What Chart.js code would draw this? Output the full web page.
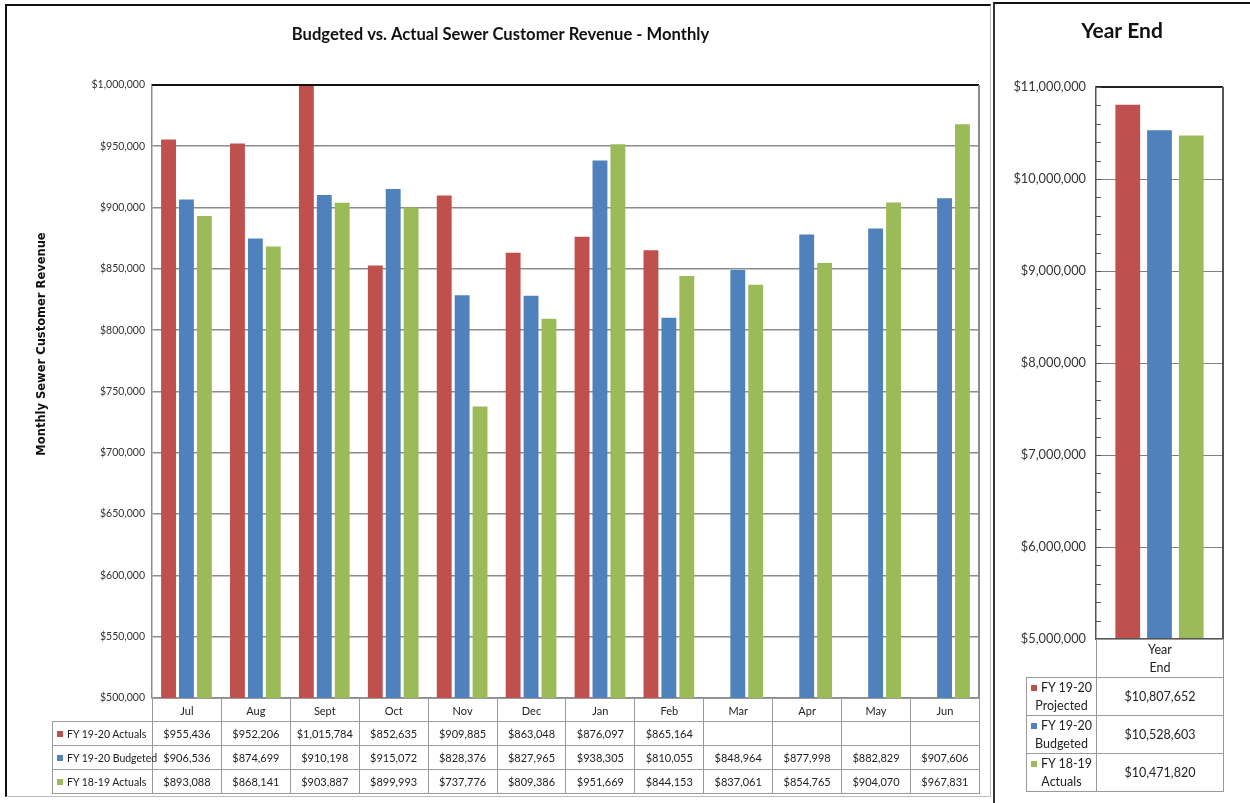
<!DOCTYPE html>
<html>
<head>
<meta charset="utf-8">
<title>Budgeted vs. Actual Sewer Customer Revenue</title>
<script src="https://cdn.jsdelivr.net/npm/chart.js@4.4.0/dist/chart.umd.min.js"></script>
<style>
  html, body { margin: 0; padding: 0; background: #fff; }
  body { position: relative; width: 1250px; height: 803px; overflow: hidden;
         font-family: Lato, "Open Sans", sans-serif; color: #222; }
  #leftPanel { position: absolute; left: 5px; top: 4px; width: 986px; height: 793px; box-sizing: border-box;
               border-top: 2px solid #111; border-left: 2px solid #111; border-right: 1px solid #bbb; border-bottom: 1px solid #bbb; }
  #rightPanel { position: absolute; left: 993px; top: 2px; width: 262px; height: 805px; box-sizing: border-box;
                border-top: 2px solid #111; border-left: 2px solid #333; }
  canvas { position: absolute; }
  #monthly { left: 6px; top: 5px; }
  #yearEnd { left: 995px; top: 5px; }
  table.data { position: absolute; border-collapse: collapse; table-layout: fixed; }
  table.data td { border: 1px solid #9a9a9a; text-align: center; padding: 0; white-space: nowrap; }
  table.data td.blank { border-top: none; border-left: none; }
  #monthlyTable td { font-size: 11px; }
  #monthlyTable td.key { text-align: left; padding-left: 4px; font-size: 10.5px; }
  #yearEndTable td { font-size: 12.5px; line-height: 18px; }
  .sw { display: inline-block; width: 6px; height: 6px; margin-right: 4px; vertical-align: 1px; }
</style>
</head>
<body>
<div id="leftPanel"></div>
<div id="rightPanel"></div>
<canvas id="monthly" width="984" height="790"></canvas>
<canvas id="yearEnd" width="255" height="798"></canvas>
<table id="monthlyTable" class="data"></table>
<table id="yearEndTable" class="data"></table>
<script>
"use strict";

const months = ["Jul", "Aug", "Sept", "Oct", "Nov", "Dec", "Jan", "Feb", "Mar", "Apr", "May", "Jun"];
const fy1920Actuals = [955436, 952206, 1015784, 852635, 909885, 863048, 876097, 865164, null, null, null, null];
const fy1920Budgeted = [906536, 874699, 910198, 915072, 828376, 827965, 938305, 810055, 848964, 877998, 882829, 907606];
const fy1819Actuals = [893088, 868141, 903887, 899993, 737776, 809386, 951669, 844153, 837061, 854765, 904070, 967831];
const monthlyTicks = { min: 500000, max: 1000000, step: 50000 };

const yearEndCats = ["Year End"];
const yearEndProjected = [10807652];
const yearEndBudgeted = [10528603];
const yearEndPrior = [10471820];
const yearEndTicks = { min: 5000000, max: 11000000, step: 1000000, minor: 200000 };

const RED = "#C0504D", BLUE = "#4F81BD", GREEN = "#9BBB59";
const FONT = "Lato, 'Open Sans', sans-serif";

function money(v) { return "$" + Math.round(v).toLocaleString("en-US"); }

// plot area border lines (Excel style: dark top, grey right)
const frameLines = {
  id: "frameLines",
  afterDatasetsDraw(chart, args, opts) {
    const { ctx, chartArea: a } = chart;
    ctx.save();
    ctx.lineWidth = opts.width || 1.5;
    if (opts.top) { ctx.strokeStyle = opts.top; ctx.beginPath(); ctx.moveTo(a.left, a.top); ctx.lineTo(a.right, a.top); ctx.stroke(); }
    if (opts.right) { ctx.strokeStyle = opts.right; ctx.beginPath(); ctx.moveTo(a.right, a.top); ctx.lineTo(a.right, a.bottom); ctx.stroke(); }
    if (opts.bottom) { ctx.strokeStyle = opts.bottom; ctx.beginPath(); ctx.moveTo(a.left, a.bottom); ctx.lineTo(a.right, a.bottom); ctx.stroke(); }
    ctx.restore();
  },
};

// short minor tick marks inside the plot, on the value axis
const minorTicks = {
  id: "minorTicks",
  afterDatasetsDraw(chart, args, opts) {
    if (!opts.step) return;
    const { ctx, chartArea: a } = chart;
    const y = chart.scales.y;
    ctx.save();
    ctx.strokeStyle = opts.color || "#555";
    ctx.lineWidth = 1;
    for (let v = y.min; v <= y.max; v += opts.step) {
      const py = Math.round(y.getPixelForValue(v)) + 0.5;
      ctx.beginPath(); ctx.moveTo(a.left, py); ctx.lineTo(a.left + (opts.length || 4), py); ctx.stroke();
    }
    ctx.restore();
  },
};

// free-standing captions (the Excel titles were placed by hand, not centred)
const captions = {
  id: "captions",
  afterDraw(chart, args, opts) {
    const { ctx } = chart;
    for (const c of opts.items || []) {
      ctx.save();
      ctx.translate(c.x, c.y);
      if (c.rotate) ctx.rotate(c.rotate);
      ctx.font = c.font;
      ctx.fillStyle = c.color || "#111";
      ctx.textAlign = "center";
      ctx.textBaseline = "middle";
      ctx.fillText(c.text, 0, 0);
      ctx.restore();
    }
  },
};

const monthlyChart = new Chart(document.getElementById("monthly"), {
  type: "bar",
  data: {
    labels: months,
    datasets: [
      { label: "FY 19-20 Actuals", data: fy1920Actuals, backgroundColor: RED },
      { label: "FY 19-20 Budgeted", data: fy1920Budgeted, backgroundColor: BLUE },
      { label: "FY 18-19 Actuals", data: fy1819Actuals, backgroundColor: GREEN },
    ],
  },
  options: {
    responsive: false,
    animation: false,
    categoryPercentage: 0.78,
    barPercentage: 0.83,
    layout: { padding: { left: 16, right: 11, top: 0, bottom: 97 } },
    scales: {
      x: { display: false },
      y: {
        min: monthlyTicks.min,
        max: monthlyTicks.max,
        afterFit: (scale) => { scale.width = 130; },
        ticks: { stepSize: monthlyTicks.step, padding: 7, color: "#333",
                 font: { family: FONT, size: 10.5 }, callback: (v) => money(v) },
        grid: { color: "#8c8c8c", lineWidth: 1.5, drawTicks: false },
        border: { color: "#8c8c8c", width: 1.5 },
      },
    },
    plugins: {
      legend: { display: false },
      tooltip: { enabled: false },
      title: { display: true, text: "Budgeted vs. Actual Sewer Customer Revenue - Monthly", color: "#111",
               font: { family: FONT, size: 16.6, weight: "bold" }, padding: { top: 20, bottom: 40 } },
      frameLines: { top: "#111", right: "#8c8c8c", width: 2 },
      captions: { items: [
        { text: "Monthly Sewer Customer Revenue", x: 36, y: 339, rotate: -Math.PI / 2,
          font: "bold 11.5px 'DejaVu Sans', sans-serif" },
      ] },
    },
  },
  plugins: [frameLines, captions],
});

const yearEndChart = new Chart(document.getElementById("yearEnd"), {
  type: "bar",
  data: {
    labels: yearEndCats,
    datasets: [
      { label: "FY 19-20 Projected", data: yearEndProjected, backgroundColor: RED },
      { label: "FY 19-20 Budgeted", data: yearEndBudgeted, backgroundColor: BLUE },
      { label: "FY 18-19 Actuals", data: yearEndPrior, backgroundColor: GREEN },
    ],
  },
  options: {
    responsive: false,
    animation: false,
    categoryPercentage: 0.75,
    barPercentage: 0.78,
    layout: { padding: { left: 0, right: 27, top: 82, bottom: 164 } },
    scales: {
      x: { display: false },
      y: {
        min: yearEndTicks.min,
        max: yearEndTicks.max,
        afterFit: (scale) => { scale.width = 101; },
        ticks: { stepSize: yearEndTicks.step, padding: 10, color: "#333",
                 font: { family: FONT, size: 12.8 }, callback: (v) => money(v) },
        grid: { color: "#7f7f7f", lineWidth: 1, drawTicks: false },
        border: { color: "#555", width: 1.5 },
      },
    },
    plugins: {
      legend: { display: false },
      tooltip: { enabled: false },
      title: { display: false },
      frameLines: { top: "#222", right: "#555", bottom: "#555", width: 2 },
      minorTicks: { step: yearEndTicks.minor, length: 5, color: "#555" },
      captions: { items: [
        { text: "Year End", x: 127, y: 26, font: "bold 21px Lato, 'Open Sans', sans-serif" },
      ] },
    },
  },
  plugins: [frameLines, minorTicks, captions],
});

// data tables lined up under each plot area
function buildTable(tableEl, chart, opts) {
  const canvas = chart.canvas;
  const a = chart.chartArea;
  const plotLeft = canvas.offsetLeft + a.left;
  const colW = (a.right - a.left) / opts.cats.length;
  tableEl.style.left = opts.labelLeft + "px";
  tableEl.style.top = (canvas.offsetTop + a.bottom) + "px";
  tableEl.style.width = (canvas.offsetLeft + a.right - opts.labelLeft) + "px";
  let html = `<colgroup><col style="width:${plotLeft - opts.labelLeft}px">` +
    opts.cats.map(() => `<col style="width:${colW}px">`).join("") + "</colgroup>";
  html += `<tr style="height:${opts.headH}px"><td class="blank"></td>` +
    opts.cats.map((c) => `<td>${c}</td>`).join("") + "</tr>";
  for (const s of opts.series) {
    html += `<tr style="height:${opts.rowH}px"><td class="key"><span class="sw" style="background:${s.color}"></span>${s.label}</td>` +
      s.data.map((v) => `<td>${v == null ? "" : money(v)}</td>`).join("") + "</tr>";
  }
  tableEl.innerHTML = html;
}

buildTable(document.getElementById("monthlyTable"), monthlyChart, {
  labelLeft: 52, headH: 23, rowH: 24, cats: months,
  series: [
    { label: "FY 19-20 Actuals", color: RED, data: fy1920Actuals },
    { label: "FY 19-20 Budgeted", color: BLUE, data: fy1920Budgeted },
    { label: "FY 18-19 Actuals", color: GREEN, data: fy1819Actuals },
  ],
});

buildTable(document.getElementById("yearEndTable"), yearEndChart, {
  labelLeft: 1026, headH: 38, rowH: 38, cats: ["Year<br>End"],
  series: [
    { label: "FY 19-20<br>Projected", color: RED, data: yearEndProjected },
    { label: "FY 19-20<br>Budgeted", color: BLUE, data: yearEndBudgeted },
    { label: "FY 18-19<br>Actuals", color: GREEN, data: yearEndPrior },
  ],
});
</script>
</body>
</html>
